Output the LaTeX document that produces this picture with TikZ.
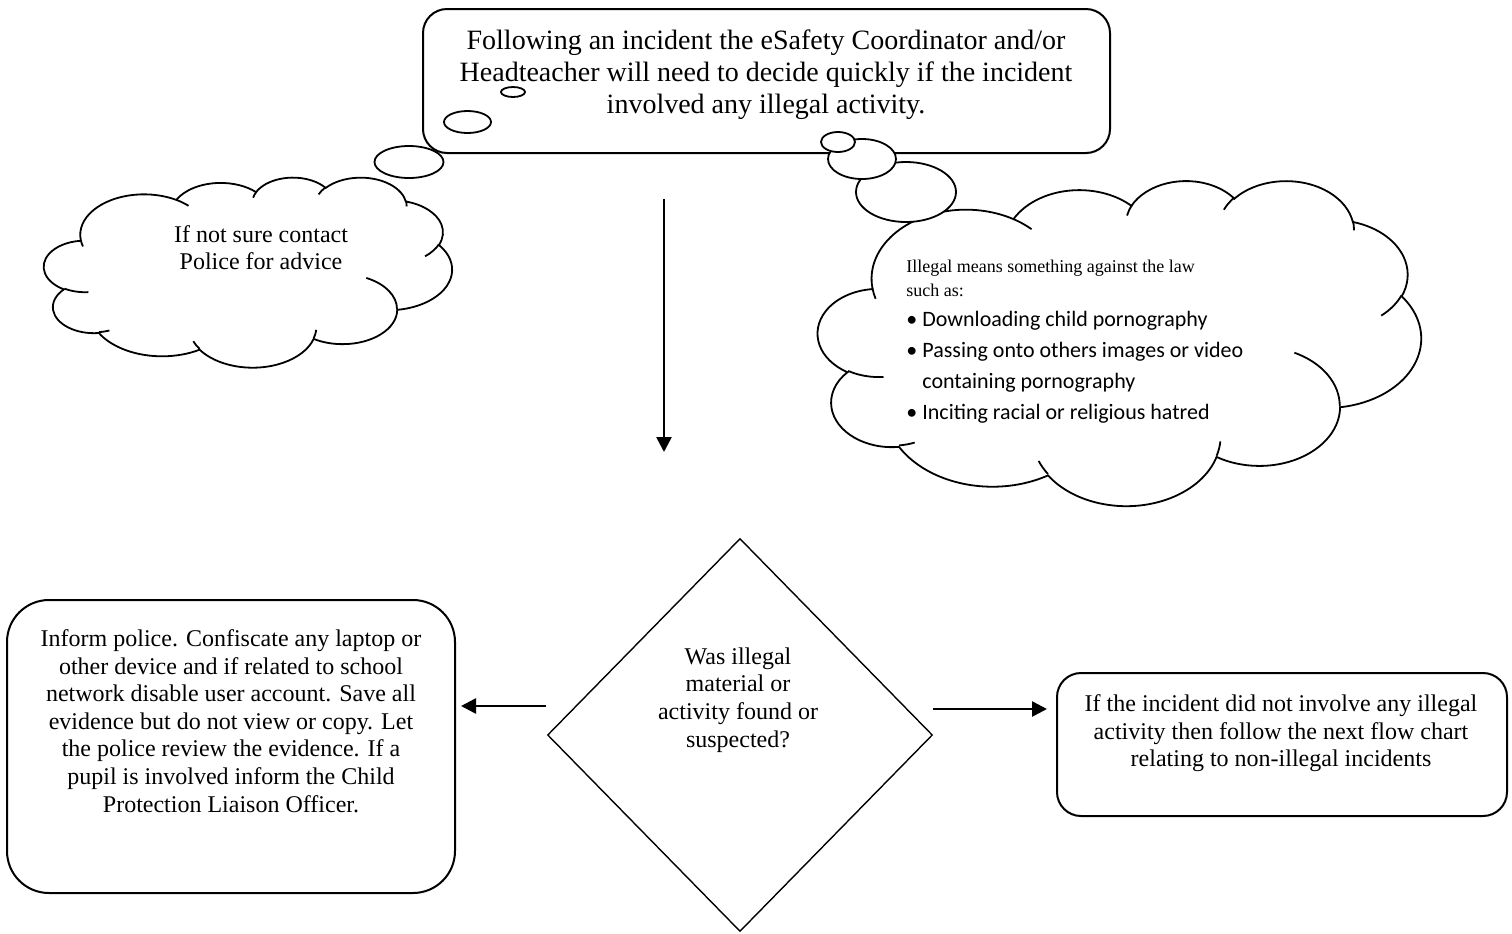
\documentclass[tikz,border=0pt]{standalone}
\usepackage{fontspec}
\setmainfont{Liberation Serif}
\newfontfamily\calibrifont{Carlito}
\usetikzlibrary{shapes.geometric, arrows.meta, positioning}
\newcommand{\cloudarc}[4]{arc[start angle={atan2((#1)*sin(#3),(#2)*cos(#3))}, delta angle={mod(atan2((#1)*sin((#3)+(#4)),(#2)*cos((#3)+(#4)))-atan2((#1)*sin(#3),(#2)*cos(#3))-(#4)+900,360)-180+(#4)}, x radius=#1, y radius=#2]}
\tikzset{
  word cloud/.pic={
    \draw[cloud line, fill=white] (39.00,143.70)
      \cloudarc{67.53}{91.90}{-190.487}{123.781}
      \cloudarc{53.33}{72.67}{-144.102}{89.945}
      \cloudarc{43.65}{59.45}{-145.808}{99.723}
      \cloudarc{48.57}{65.95}{-130.986}{117.242}
      \cloudarc{53.33}{72.73}{-78.709}{109.027}
      \cloudarc{67.75}{92.20}{-46.267}{130.269}
      \cloudarc{57.85}{78.67}{0.625}{114.033}
      \cloudarc{67.52}{92.15}{22.452}{115.173}
      \cloudarc{77.20}{105.43}{66.243}{75.711}
      \cloudarc{43.60}{59.18}{-274.942}{146.736}
      \cloudarc{43.45}{59.45}{-246.829}{152.519}
      -- cycle;
    \draw[cloud line]
      (46.93,261.77) \cloudarc{43.45}{59.45}{86.742}{26.430}
      (69.28,348.99) \cloudarc{43.60}{59.18}{73.611}{11.447}
      (164.78,390.90) \cloudarc{67.52}{92.15}{137.624}{14.081}
      (288.27,347.51) \cloudarc{67.52}{92.15}{6.453}{15.998}
      (341.29,229.54) \cloudarc{57.85}{78.67}{-70.292}{70.917}
      (417.98,153.54) \cloudarc{53.33}{72.73}{30.318}{27.752}
      (383.24,54.26) \cloudarc{48.57}{65.95}{-13.744}{14.864}
      (290.78,39.52) \cloudarc{48.57}{65.95}{-149.181}{18.187}
      (221.41,47.20) \cloudarc{43.65}{59.45}{-163.494}{17.697}
      (140.00,51.92) \cloudarc{67.53}{91.90}{-66.707}{12.319}
      (41.27,157.89) \cloudarc{67.53}{91.90}{157.654}{11.858};
  },
  cloud line/.style={line width=0.9pt},
  box/.style={draw, line width=1pt, fill=white, inner sep=0pt},
  bubble/.style={draw, ellipse, line width=0.9pt, fill=white, inner sep=0pt},
  flow/.style={line width=1.3pt, -{Triangle[width=7.5pt,length=7.5pt]}},
  boxtext/.style={align=center, inner sep=0pt, font=\fontsize{12}{13.8}\selectfont},
}
\begin{document}
\begin{tikzpicture}[x=0.5pt, y=-0.5pt]
\fill[white] (0,0) rectangle (1512,933);
\useasboundingbox (0,0) rectangle (1512,933);

\pic[xscale=0.9444, yscale=0.4398] (advicecloud) at (44,177) {word cloud};
\pic[xscale=1.3958, yscale=0.7523] (illegalcloud) at (818,180) {word cloud};

\node[box, rounded corners=12pt, minimum width=343.5pt, minimum height=72pt] (incident) at (766.5,81) {};
\node[boxtext, font=\fontsize{14}{16}\selectfont] (incidenttext) at (766,74.5) {Following an incident the eSafety Coordinator and/or\\Headteacher will need to decide quickly if the incident\\involved any illegal activity.};

\foreach \name/\x/\y/\rx/\ry in {lb3/409/162/34.5/16, lb2/467.5/122/23.5/11, lb1/513/92/12/5, rb3/906/192/50/30, rb2/862/159/34/20, rb1/838/142/17/10}
  \node[bubble, minimum width=\rx pt, minimum height=\ry pt] (\name) at (\x,\y) {};

\node[boxtext] (advicetext) at (261,247.5) {If not sure contact\\Police for advice};

\node[anchor=base west, align=left, inner sep=0pt, font=\fontsize{9}{12}\selectfont] (illegaldef) at (906,296) {Illegal means something against the law\\such as:};
\node[anchor=base west, align=left, inner sep=0pt, font=\calibrifont\fontsize{11}{15.4}\selectfont] (illegallist) at (906,419) {\makebox[8pt][l]{\textbullet}Downloading child pornography\\\makebox[8pt][l]{\textbullet}Passing onto others images or video\\\hspace*{8pt}containing pornography\\\makebox[8pt][l]{\textbullet}Inciting racial or religious hatred};

\node[draw, diamond, line width=0.7pt, minimum width=192.5pt, minimum height=196.5pt, inner sep=0pt] (decision) at (740,735) {};
\node[boxtext] (decisiontext) at (738,700) {Was illegal\\material or\\activity found or\\suspected?};

\node[box, rounded corners=21pt, minimum width=224pt, minimum height=146.5pt] (police) at (231,746.5) {};
\node[boxtext] (policetext) at (231,721) {Inform police. Confiscate any laptop or\\other device and if related to school\\network disable user account. Save all\\evidence but do not view or copy. Let\\the police review the evidence. If a\\pupil is involved inform the Child\\Protection Liaison Officer.};

\node[box, rounded corners=12pt, minimum width=225pt, minimum height=71.5pt] (nonillegal) at (1282,744.5) {};
\node[boxtext] (nonillegaltext) at (1281,733.5) {If the incident did not involve any illegal\\activity then follow the next flow chart\\relating to non-illegal incidents};

\coordinate (checkstart) at (664,199);
\coordinate (checkend) at (664,452);
\coordinate (yesstart) at (546,706);
\coordinate (yesend) at (461,706);
\coordinate (nostart) at (933,709);
\coordinate (noend) at (1047,709);
\draw[flow] (checkstart) -- (checkend);
\draw[flow] (yesstart) -- (yesend);
\draw[flow] (nostart) -- (noend);
\end{tikzpicture}
\end{document}
